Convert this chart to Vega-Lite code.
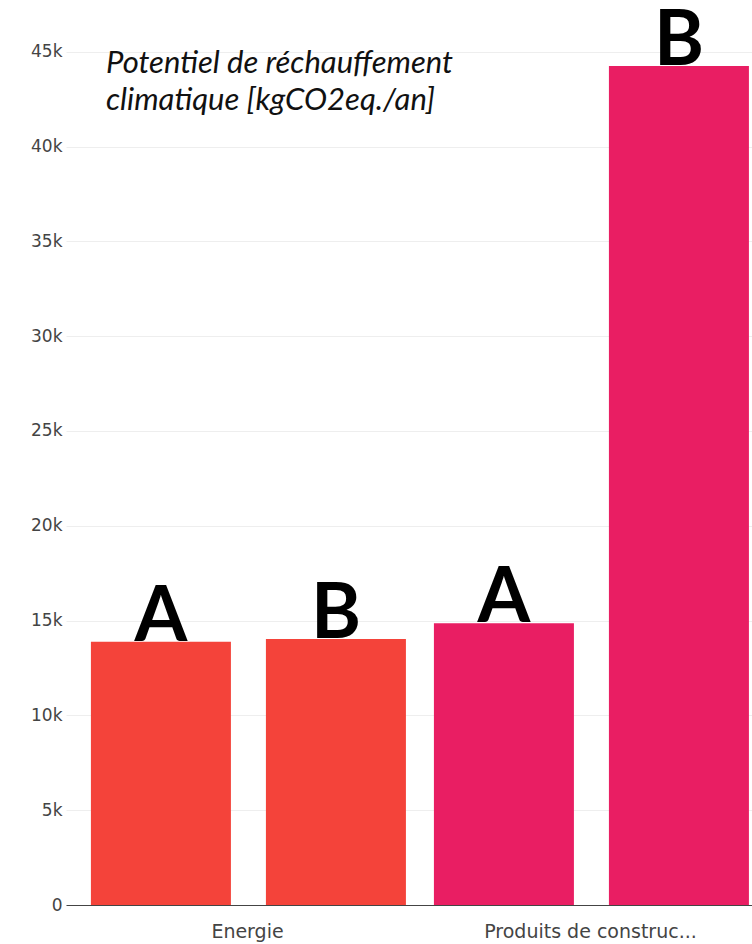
{
  "$schema": "https://vega.github.io/schema/vega-lite/v6.json",
  "width": 686,
  "height": 905,
  "autosize": {"type": "none"},
  "padding": {"left": 66, "top": 0, "right": 0, "bottom": 39},
  "background": "white",
  "title": {
    "text": ["Potentiel de réchauffement", "climatique [kgCO2eq./an]"],
    "anchor": "start",
    "frame": "group",
    "orient": "top",
    "font": "Lato",
    "fontStyle": "italic",
    "fontWeight": "normal",
    "fontSize": 31,
    "color": "#111111",
    "baseline": "top",
    "lineHeight": 37,
    "offset": 0,
    "dx": 40,
    "dy": 117
  },
  "data": {
    "values": [
      {"cat": "Energie", "var": "A", "v": 13890},
      {"cat": "Energie", "var": "B", "v": 14030},
      {"cat": "Produits de construc...", "var": "A", "v": 14860},
      {"cat": "Produits de construc...", "var": "B", "v": 44250}
    ]
  },
  "encoding": {
    "x": {
      "field": "cat",
      "type": "nominal",
      "sort": null,
      "scale": {"paddingInner": 0, "paddingOuter": 0},
      "axis": {
        "title": null,
        "labelAngle": 0,
        "labelFont": "DejaVu Sans",
        "labelFontSize": 19,
        "labelColor": "#444444",
        "labelPadding": 17,
        "labelLimit": 400,
        "labelOffset": 10,
        "ticks": false,
        "domainColor": "#444444",
        "domainWidth": 1,
        "grid": false
      }
    },
    "xOffset": {
      "field": "var",
      "type": "nominal",
      "sort": null,
      "scale": {"paddingInner": 0.2, "paddingOuter": 0.08, "align": 0.89}
    },
    "y": {
      "field": "v",
      "type": "quantitative",
      "scale": {"domain": [0, 47730], "nice": false, "zero": true},
      "axis": {
        "title": null,
        "values": [0, 5000, 10000, 15000, 20000, 25000, 30000, 35000, 40000, 45000],
        "labelExpr": "datum.value == 0 ? '0' : format(datum.value / 1000, 'd') + 'k'",
        "labelFont": "DejaVu Sans",
        "labelFontSize": 17,
        "labelColor": "#444444",
        "labelPadding": 4,
        "ticks": false,
        "domain": false,
        "grid": true,
        "gridColor": "#eeeeee",
        "gridWidth": 1
      }
    }
  },
  "layer": [
    {
      "mark": {"type": "bar"},
      "encoding": {
        "color": {
          "field": "cat",
          "type": "nominal",
          "scale": {"domain": ["Energie", "Produits de construc..."], "range": ["#F4433A", "#E91E63"]},
          "legend": null
        }
      }
    },
    {
      "mark": {
        "type": "text",
        "font": "Lato",
        "fontWeight": "bold",
        "fontSize": 76,
        "baseline": "alphabetic",
        "align": "center",
        "dy": -1,
        "color": "#000000"
      },
      "encoding": {
        "text": {"field": "var", "type": "nominal"}
      }
    }
  ],
  "config": {
    "view": {"stroke": null}
  }
}
